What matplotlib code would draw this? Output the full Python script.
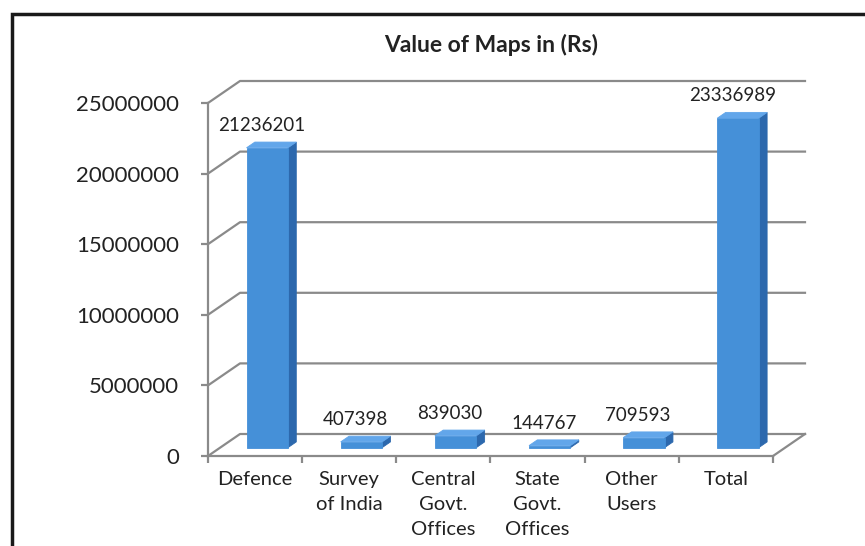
import numpy as np
import matplotlib
matplotlib.use("Agg")
import matplotlib.pyplot as plt
from matplotlib.patches import Polygon, Rectangle
from matplotlib.lines import Line2D
from matplotlib.transforms import IdentityTransform

# ---- data ----
categories = ["Defence", "Survey\nof India", "Central\nGovt.\nOffices",
              "State\nGovt.\nOffices", "Other\nUsers", "Total"]
values = [21236201, 407398, 839030, 144767, 709593, 23336989]
yticks = [0, 5000000, 10000000, 15000000, 20000000, 25000000]
title = "Value of Maps in (Rs)"

plt.rcParams["font.family"] = ["Lato", "DejaVu Sans"]

W, H = 865, 546
fig = plt.figure(figsize=(W / 100, H / 100), dpi=100)
fig.patch.set_facecolor("white")

# front plane of the 3-D box, in pixels
X0, X1, YB, YT = 208, 773, 456, 103
ax = fig.add_axes([X0 / W, 1 - YB / H, (X1 - X0) / W, (YB - YT) / H])
ax.set_xlim(-0.5, len(categories) - 0.5)
ax.set_ylim(0, 25000000)
ax.patch.set_visible(False)

DX, DY = 32, 22          # wall depth in pixels
D0, D1 = 0.38, 0.64      # bar depth (front/back) as fraction of wall depth
BW = 0.44                # bar width in category units
GRID = "#8a8a8a"
TXT = "#222222"

fig.canvas.draw()


def proj(x, y, d):
    px, py = ax.transData.transform((x, y))
    return (px + d * DX, py + d * DY)


def line(pts, **kw):
    xs, ys = zip(*pts)
    fig.add_artist(Line2D(xs, ys, transform=IdentityTransform(), **kw))


xa, xb = ax.get_xlim()
# side wall diagonals + back wall gridlines
for v in yticks:
    line([proj(xa, v, 0), proj(xa, v, 1), proj(xb, v, 1)],
         color=GRID, lw=1.6, zorder=1)
# floor right edge
line([proj(xb, 0, 0), proj(xb, 0, 1)], color=GRID, lw=1.6, zorder=1)

# bars
front_c, side_c, top_c = "#4590d8", "#2c68ad", "#62a6ea"
for i, v in enumerate(values):
    l, r = i - BW / 2, i + BW / 2
    faces = [
        ([proj(r, 0, D0), proj(r, 0, D1), proj(r, v, D1), proj(r, v, D0)], side_c),
        ([proj(l, 0, D0), proj(r, 0, D0), proj(r, v, D0), proj(l, v, D0)], front_c),
        ([proj(l, v, D0), proj(r, v, D0), proj(r, v, D1), proj(l, v, D1)], top_c),
    ]
    for pts, c in faces:
        fig.add_artist(Polygon(pts, closed=True, facecolor=c, edgecolor=c,
                               lw=0.6, transform=IdentityTransform(), zorder=3))
    lx = proj(i, v, 0.2)[0]
    ly = proj(i, v, D1)[1] + 11
    fig.text(lx / W, ly / H, f"{v}", ha="center", va="baseline",
             fontsize=13.5, color=TXT, zorder=4)

# axes: front spines and ticks
for s in ["top", "right"]:
    ax.spines[s].set_visible(False)
for s in ["left", "bottom"]:
    ax.spines[s].set_color(GRID)
    ax.spines[s].set_linewidth(1.6)

ax.set_yticks(yticks)
ax.set_yticklabels([str(t) for t in yticks], fontsize=16, color=TXT)
ax.tick_params(axis="y", length=5, width=1.6, color=GRID, pad=16)

ax.set_xticks(range(len(categories)))
ax.set_xticklabels(categories, fontsize=14.5, color=TXT, linespacing=1.55)
ax.set_xticks(np.arange(-0.5, len(categories)), minor=True)
ax.tick_params(axis="x", which="major", length=0, pad=11)
ax.tick_params(axis="x", which="minor", length=5, width=1.6, color=GRID)

fig.text(491 / W, 1 - 45 / H, title, ha="center", va="center",
         fontsize=16.5, fontweight="bold", color=TXT)

# outer frame
fig.add_artist(Rectangle((12 / W, -0.1), 1.2, 1.1 - 14 / H,
                         transform=fig.transFigure, fill=False,
                         edgecolor="#1a1a1a", lw=2.5))

fig.savefig("out.png", dpi=100)
